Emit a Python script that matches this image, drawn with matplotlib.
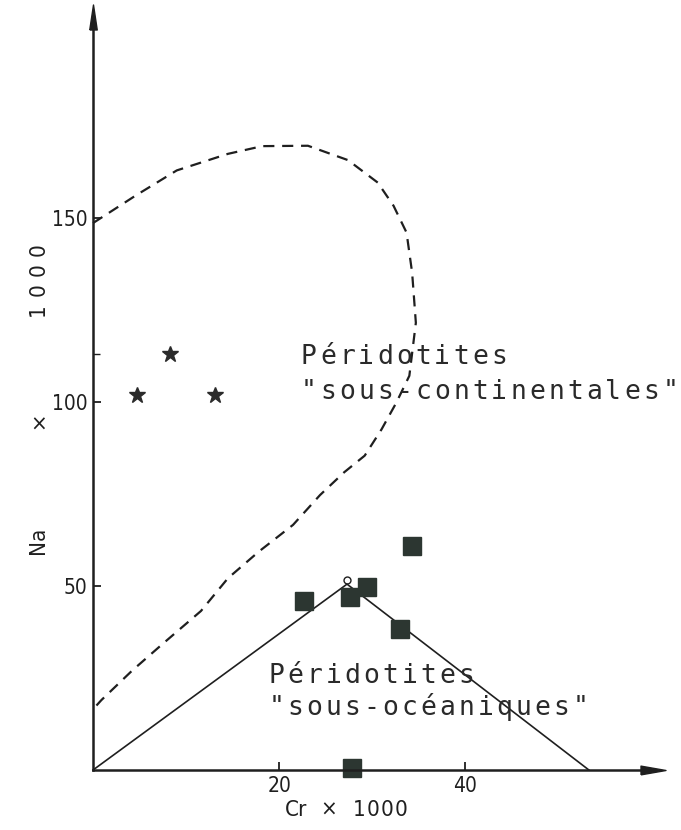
import numpy as np
import matplotlib.pyplot as plt
from matplotlib.transforms import ScaledTranslation

# Cr x 1000 en abscisse, Ni x 1000 en ordonnée
star_cr = [4.7, 8.3, 13.1]
star_ni = [102, 113, 102]

sq_cr = [22.7, 27.6, 29.4, 33.0, 34.3, 27.8]
sq_ni = [46, 47, 49.6, 38.4, 60.8, 0.5]

# champ des péridotites sous-océaniques (triangle)
ocean_cr = [0, 27.3, 53.3]
ocean_ni = [0, 50.5, 0]

# champ des péridotites sous-continentales (contour tireté)
cont_cr = [0.0, 4.6, 9.0, 14.5, 18.2, 23.1, 27.4, 30.6, 32.3, 33.7, 34.3, 34.7,
           34.0, 32.6, 31.0, 29.2, 27.0, 24.4, 21.5, 17.8, 14.5, 11.6, 7.5,
           4.2, 0.9, 0.0]
cont_ni = [148.6, 156.1, 162.9, 167.4, 169.5, 169.6, 165.7, 159.6, 153.3,
           146.0, 135.1, 121.5, 107.1, 99.8, 92.5, 85.4, 80.9, 74.7, 66.6,
           59.3, 52.1, 43.2, 34.3, 27.0, 19.0, 16.5]

xticks = [20, 40]
yticks = [50, 100, 150]
yminor = [113]

ink = '#1f1f1f'
narrow = ['Liberation Sans Narrow', 'DejaVu Sans']

fig = plt.figure(figsize=(6.81, 8.30), dpi=100)
ax = fig.add_axes([0, 0, 1, 1])
ax.set_xlim(-10.0, 63.2)
ax.set_ylim(-16.3, 209.2)


def spaced(x, y, s, pitch, rot=0, **kw):
    # écrit une chaîne lettre par lettre avec un pas fixe (en points)
    for i, ch in enumerate(s):
        dx, dy = (0, i * pitch) if rot else (i * pitch, 0)
        off = ScaledTranslation(dx / 72, dy / 72, fig.dpi_scale_trans)
        ax.text(x, y, ch, transform=ax.transData + off, rotation=rot,
                ha='center', **kw)


# axes
for side in ['top', 'right']:
    ax.spines[side].set_visible(False)
ax.spines['left'].set_position(('data', 0))
ax.spines['bottom'].set_position(('data', 0))
ax.spines['left'].set_bounds(0, 204)
ax.spines['bottom'].set_bounds(0, 60)
for side in ['left', 'bottom']:
    ax.spines[side].set_linewidth(1.8)
    ax.spines[side].set_color(ink)

ax.set_xticks(xticks)
ax.set_yticks(yticks)
ax.set_yticks(yminor, minor=True)
ax.set_xticks([], minor=True)
ax.tick_params(direction='in', length=6, width=1.3, color=ink, pad=4,
               labelsize=15, labelcolor=ink)
ax.tick_params(which='minor', direction='in', length=5, width=1.0, color=ink)
for lab in ax.get_xticklabels() + ax.get_yticklabels():
    lab.set_fontfamily(narrow)
    lab.set_fontstretch('condensed')

# têtes de flèches
ax.plot([0], [204.5], marker=[(-0.3, -1), (0.3, -1), (0, 1), (-0.3, -1)],
        ms=18, color=ink, clip_on=False)
ax.plot([60.2], [0], marker=[(-1, -0.35), (-1, 0.35), (1, 0), (-1, -0.35)],
        ms=18, color=ink, clip_on=False)

# champs
ax.plot(cont_cr, cont_ni, color=ink, lw=1.6, linestyle=(0, (5, 3.5)))
ax.plot(ocean_cr, ocean_ni, color=ink, lw=1.2)
ax.plot([ocean_cr[1]], [ocean_ni[1] + 1.2], marker='o', ms=5, mfc='none',
        mec=ink, mew=1.0)

# échantillons
ax.plot(star_cr, star_ni, linestyle='none', marker='*', ms=12, color='#2b2b2b')
ax.plot(sq_cr, sq_ni, linestyle='none', marker='s', ms=13, color='#2c3631',
        clip_on=False)

# légendes des champs
mono = dict(family='DejaVu Sans Mono', fontsize=19, color='#2a2a2a',
            va='baseline')
spaced(23.2, 110.2, 'Péridotites', 13.7, **mono)
spaced(23.2, 100.7, '"sous-continentales"', 13.7, **mono)
spaced(19.7, 23.6, 'Péridotites', 13.7, **mono)
spaced(19.7, 14.9, '"sous-océaniques"', 13.7, **mono)

# titres des axes
lab = dict(family=narrow, fontstretch='condensed', fontsize=16, color=ink,
           va='center')
spaced(-5.9, 125.0, '1000', 14.4, rot=90, **lab)
ax.text(-5.9, 93.8, '×', ha='center', **lab)
ax.text(-5.9, 62.5, 'Na', rotation=90, ha='center', **lab)
ax.text(21.8, -10.9, 'Cr', ha='center', **lab)
ax.text(25.3, -10.9, '×', ha='center', **lab)
spaced(28.6, -10.9, '1000', 10.0, **lab)

fig.savefig('out.png', dpi=100)
